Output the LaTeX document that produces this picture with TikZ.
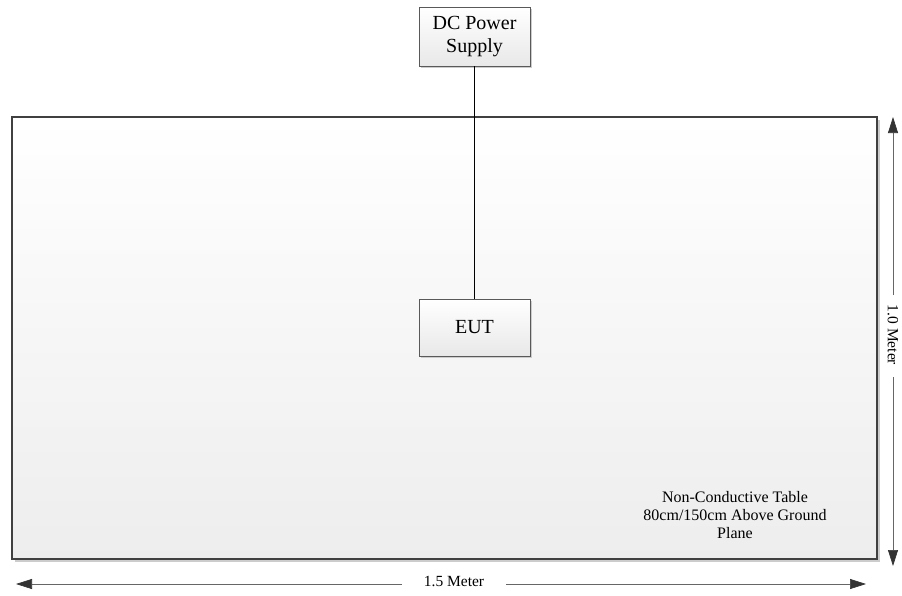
\documentclass[tikz,border=0pt]{standalone}
\usepackage{fontspec}
\setmainfont{Liberation Serif}
\usetikzlibrary{arrows.meta,shadows}
\begin{document}
\begin{tikzpicture}[x=1pt,y=-1pt,
  box/.style={draw=black!65,line width=0.8pt,top color=white,bottom color=black!9,
    drop shadow={shadow xshift=2pt,shadow yshift=-2pt,fill=black!20,opacity=1},
    minimum width=111pt,align=center,font=\fontsize{20}{23}\selectfont,inner sep=0pt},
  dim/.style={draw=black!60,line width=0.7pt,-{Triangle[length=16pt,width=10pt,color=black!80]},shorten >=0pt},
  lbl/.style={font=\fontsize{15.5}{17}\selectfont,inner sep=0pt,fill=none}]
\useasboundingbox (0,0) rectangle (902,595);
% table
\fill[black!20] (15,120) rectangle (880,562);
\draw[draw=black!75,line width=2.6pt,top color=white,bottom color=black!7] (12,117) rectangle (877,559);
\node[font=\fontsize{16}{18}\selectfont,align=center,inner sep=0pt] (tbl) at (735,515) {Non-Conductive Table\\80cm/150cm Above Ground\\Plane};
% boxes
\node[box,minimum height=59pt] (dc) at (474.5,36.5) {DC Power\\Supply};
\node[box,minimum height=57pt] (eut) at (474.5,327.5) {EUT};
\draw[black,line width=0.9pt] (dc.south) -- (eut.north);
% dimensions
\coordinate (vt) at (893,117);
\coordinate (vb) at (893,566);
\node[lbl,rotate=-90] (vl) at (893,335) {1.0 Meter};
\draw[dim] ([yshift=40pt]vl.center) -- (vt);
\draw[dim] ([yshift=-42pt]vl.center) -- (vb);
\coordinate (hl) at (16,584);
\coordinate (hr) at (866,584);
\node[lbl] (hm) at (454,581) {1.5 Meter};
\draw[dim] ([xshift=-52pt]hm.center |- hl) -- (hl);
\draw[dim] ([xshift=52pt]hm.center |- hr) -- (hr);
\end{tikzpicture}
\end{document}
